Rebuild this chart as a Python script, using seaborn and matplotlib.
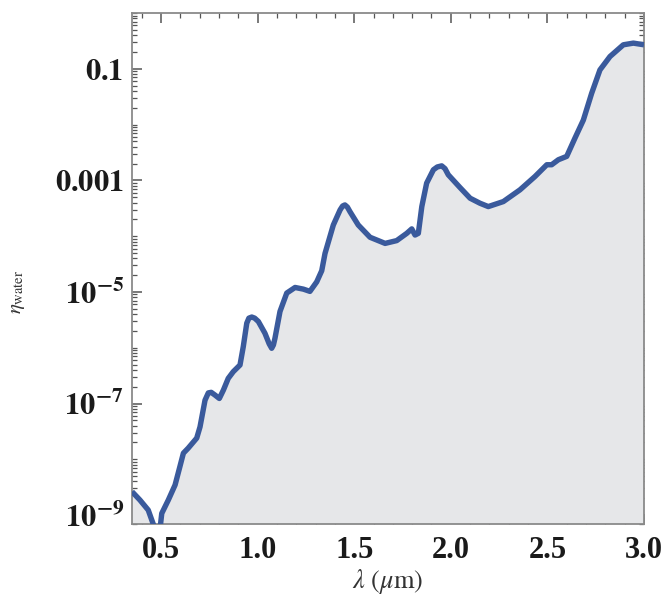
import numpy as np
import pandas as pd
import seaborn as sns
import matplotlib
matplotlib.use("Agg")
import matplotlib.pyplot as plt
from matplotlib.ticker import FixedLocator, FixedFormatter, NullFormatter

# wavelength (um)
wavelength = [0.350, 0.391, 0.434, 0.469, 0.495, 0.504, 0.538, 0.573, 0.598, 0.616,
              0.641, 0.685, 0.702, 0.728, 0.745, 0.760, 0.780, 0.802, 0.823, 0.848,
              0.874, 0.909, 0.926, 0.944, 0.955, 0.970, 0.985, 1.004, 1.038, 1.060,
              1.073, 1.082, 1.090, 1.116, 1.151, 1.194, 1.237, 1.271, 1.306, 1.332,
              1.349, 1.392, 1.427, 1.440, 1.452, 1.465, 1.478, 1.521, 1.582, 1.660,
              1.720, 1.772, 1.798, 1.815, 1.832, 1.850, 1.875, 1.910, 1.930, 1.953,
              1.970, 1.987, 2.048, 2.100, 2.151, 2.194, 2.272, 2.358, 2.436, 2.497,
              2.522, 2.557, 2.600, 2.643, 2.686, 2.729, 2.772, 2.824, 2.893, 2.945,
              3.000]
# log10 of eta_water
log10_eta = [-8.58, -8.73, -8.91, -9.25, -9.25, -8.97, -8.73, -8.46, -8.13, -7.89,
             -7.80, -7.62, -7.42, -6.94, -6.81, -6.80, -6.85, -6.91, -6.76, -6.55,
             -6.43, -6.31, -5.98, -5.56, -5.47, -5.45, -5.47, -5.53, -5.74, -5.93,
             -6.01, -5.95, -5.83, -5.35, -5.02, -4.92, -4.95, -4.99, -4.82, -4.62,
             -4.31, -3.80, -3.53, -3.46, -3.44, -3.48, -3.56, -3.80, -4.02, -4.13,
             -4.08, -3.95, -3.87, -3.98, -3.95, -3.47, -3.05, -2.81, -2.76, -2.74,
             -2.79, -2.90, -3.13, -3.32, -3.41, -3.47, -3.38, -3.17, -2.93, -2.72,
             -2.72, -2.63, -2.57, -2.24, -1.92, -1.44, -1.02, -0.78, -0.57, -0.54,
             -0.57]

x_ticks = [0.5, 1.0, 1.5, 2.0, 2.5, 3.0]
x_ticklabels = ["0.5", "1.0", "1.5", "2.0", "2.5", "3.0"]
y_ticks = [1e-1, 1e-3, 1e-5, 1e-7, 1e-9]
y_ticklabels = [r"$\mathbf{0.1}$", r"$\mathbf{0.001}$", r"$\mathbf{10^{-5}}$",
                r"$\mathbf{10^{-7}}$", r"$\mathbf{10^{-9}}$"]

df = pd.DataFrame({"wl": wavelength, "eta": np.power(10.0, log10_eta)})

sns.set_style("ticks")
plt.rcParams["font.family"] = ["Liberation Serif", "DejaVu Serif"]
plt.rcParams["mathtext.fontset"] = "stix"

fig = plt.figure(figsize=(6.66, 6.02), dpi=100)
ax = fig.add_axes([132 / 666, 1 - 524 / 602, 512 / 666, 511 / 602])

ax.fill_between(df["wl"], df["eta"], 1e-14, color="#e6e7e9", linewidth=0, zorder=1)
sns.lineplot(data=df, x="wl", y="eta", ax=ax, color="#3a5a9c", linewidth=3.9,
             estimator=None, sort=False, zorder=3,
             solid_joinstyle="round", solid_capstyle="butt")

ax.set_yscale("log")
ax.set_xlim(0.35, 3.0)
ax.set_ylim(10 ** -9.16, 1.0)

ax.xaxis.set_major_locator(FixedLocator(x_ticks))
ax.xaxis.set_major_formatter(FixedFormatter(x_ticklabels))
ax.xaxis.set_minor_locator(FixedLocator(np.arange(0.4, 3.0, 0.1)))

ax.yaxis.set_major_locator(FixedLocator(y_ticks))
ax.yaxis.set_major_formatter(FixedFormatter(y_ticklabels))
minor_y = []
for e in range(-10, 1):
    for s in range(1, 10):
        v = s * 10.0 ** e
        if v not in y_ticks:
            minor_y.append(v)
ax.yaxis.set_minor_locator(FixedLocator(minor_y))
ax.yaxis.set_minor_formatter(NullFormatter())

spine_col = "#8a8a8a"
for sp in ax.spines.values():
    sp.set_color(spine_col)
    sp.set_linewidth(1.3)

ax.tick_params(which="both", direction="in", top=True, right=True, color="#555555")
ax.tick_params(which="major", length=7, width=1.1)
ax.tick_params(which="minor", length=3.5, width=0.9)
ax.tick_params(axis="x", which="major", labelsize=22, pad=9, labelcolor="#1a1a1a")
ax.tick_params(axis="y", which="major", labelsize=22, pad=6, labelcolor="#1a1a1a")
for lab in ax.get_xticklabels():
    lab.set_fontweight("bold")

ax.set_xlabel(r"$\lambda\ (\mu\mathrm{m})$", fontsize=19, color="#333333")
ax.set_ylabel(r"$\eta_{\mathrm{water}}$", fontsize=15, color="#333333")
ax.yaxis.set_label_coords(-0.205, 0.455)
ax.xaxis.set_label_coords(0.5, -0.085)

fig.savefig("out.png", dpi=100)
